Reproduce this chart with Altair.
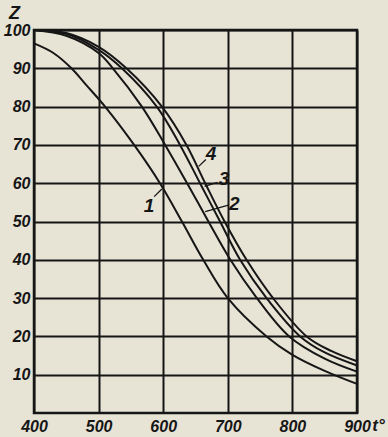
import altair as alt
import pandas as pd

# curve data (t, Z)
t1 = [400, 430, 458, 480, 510, 555, 595, 629, 662, 700, 760, 800, 850, 900]
z1 = [96.5, 94, 90, 85.8, 80, 70, 60, 50, 40, 30, 20, 15.2, 11, 7.6]
t2 = [400, 450, 500, 522, 567, 603, 637, 670, 704, 745, 795, 850, 900]
z2 = [100, 98.5, 94, 90, 80, 70, 60, 50, 40, 30, 20, 14.2, 10.8]
t3 = [400, 450, 500, 536, 590, 626, 657, 688, 719, 760, 812, 850, 900]
z3 = [100, 99, 94.8, 90, 80, 70, 60, 50, 40, 30, 20, 15.8, 12.4]
t4 = [400, 450, 500, 543, 598, 636, 665, 695, 729, 770, 822, 860, 900]
z4 = [100, 99.2, 95.6, 90, 80, 70, 60, 50, 40, 30, 20, 16.2, 13.5]

# curve labels
label_text = ["1", "2", "3", "4"]
label_t = [578, 710, 694, 674]
label_z = [54, 54.5, 61, 67.5]

# leader lines
lead_t = [586, 701, 684, 666]
lead_z = [56.5, 54.3, 60.2, 66.2]
lead_t2 = [598, 665, 664, 655]
lead_z2 = [58.5, 52.6, 59.2, 64.4]

x_ticks = [400, 500, 600, 700, 800, 900]
y_ticks = [10, 20, 30, 40, 50, 60, 70, 80, 90, 100]

rows = []
for name, ts, zs in [("1", t1, z1), ("2", t2, z2), ("3", t3, z3), ("4", t4, z4)]:
    for t, z in zip(ts, zs):
        rows.append({"curve": name, "t": t, "z": z})
curves = pd.DataFrame(rows)
labels = pd.DataFrame({"txt": label_text, "t": label_t, "z": label_z})
leads = pd.DataFrame({"t": lead_t, "z": lead_z, "t2": lead_t2, "z2": lead_z2})

FONT = "Liberation Sans"
INK = "#161616"

xscale = alt.Scale(domain=[400, 900], nice=False, zero=False)
yscale = alt.Scale(domain=[0, 100], nice=False)

xaxis = alt.Axis(values=x_ticks, grid=True, gridColor=INK, gridWidth=2, gridOpacity=1,
                 ticks=False, domain=False, labelFont=FONT, labelFontSize=16,
                 labelFontStyle="italic", labelFontWeight="bold", labelColor=INK,
                 labelPadding=5, labelFlush=False, title="t°", titleFont=FONT,
                 titleFontSize=17, titleFontStyle="italic", titleFontWeight="bold",
                 titleColor=INK, titleX=344, titleY=12, titleAngle=0,
                 titleBaseline="middle", titleAlign="center")
yaxis = alt.Axis(values=y_ticks, grid=True, gridColor=INK, gridWidth=2, gridOpacity=1,
                 ticks=False, domain=False, labelFont=FONT, labelFontSize=16,
                 labelFontStyle="italic", labelFontWeight="bold", labelColor=INK,
                 labelPadding=4, labelFlush=False, title="Z", titleFont=FONT,
                 titleFontSize=18, titleFontStyle="italic", titleFontWeight="bold",
                 titleColor=INK, titleX=-20, titleY=-17, titleAngle=0,
                 titleBaseline="middle", titleAlign="center")

lines = alt.Chart(curves).mark_line(color=INK, strokeWidth=2, interpolate="catmull-rom").encode(
    x=alt.X("t:Q", scale=xscale, axis=xaxis),
    y=alt.Y("z:Q", scale=yscale, axis=yaxis),
    detail="curve:N",
    order="t:Q",
)

text = alt.Chart(labels).mark_text(font=FONT, fontSize=19, fontStyle="italic",
                                   fontWeight="bold", color=INK, baseline="middle",
                                   align="center").encode(
    x=alt.X("t:Q", scale=xscale), y=alt.Y("z:Q", scale=yscale), text="txt:N")

rules = alt.Chart(leads).mark_rule(color=INK, strokeWidth=1.3).encode(
    x=alt.X("t:Q", scale=xscale), y=alt.Y("z:Q", scale=yscale),
    x2="t2:Q", y2="z2:Q")

chart = alt.layer(lines, rules, text).properties(
    width=323, height=383,
    autosize=alt.AutoSizeParams(type="none"),
    padding={"left": 34, "top": 30, "right": 31, "bottom": 24},
    background="#e7e3d5",
).configure_view(stroke=INK, strokeWidth=2.5)

chart.save("out.html", embed_options={"renderer": "svg", "actions": False})
